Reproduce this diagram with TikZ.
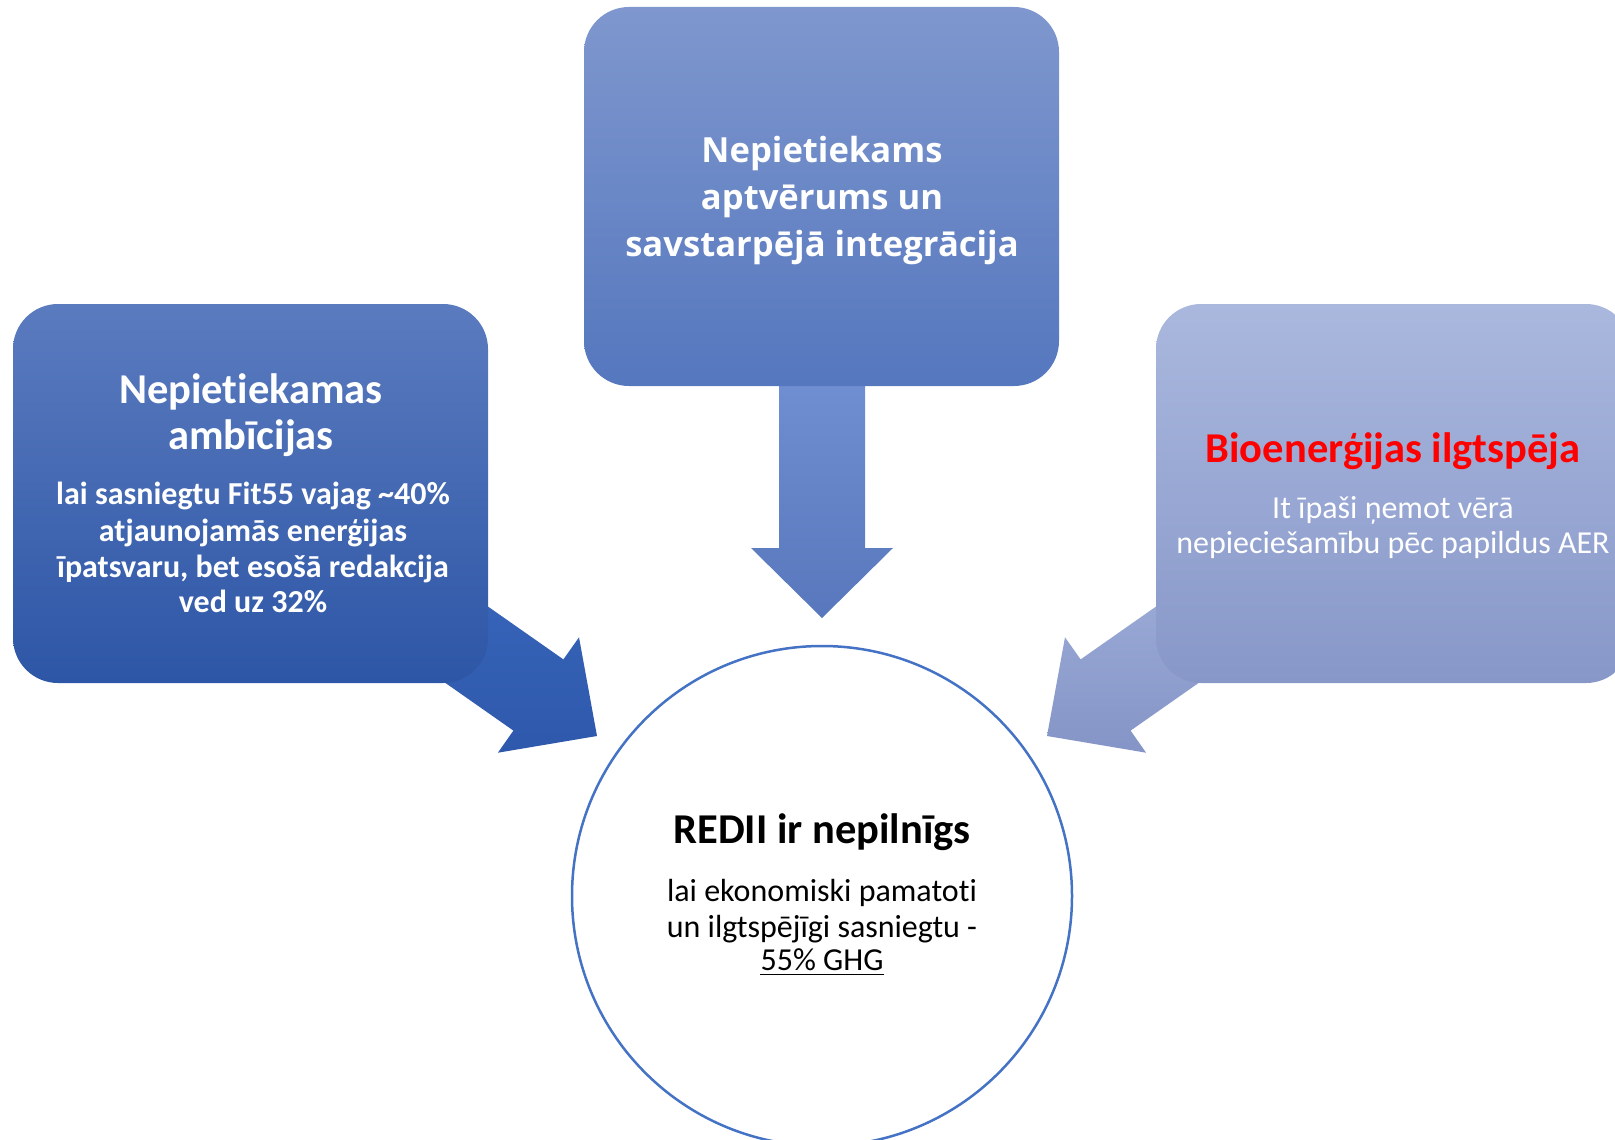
\documentclass[tikz,border=0pt]{standalone}
\usepackage{fontspec}
\setmainfont{Carlito}[Ligatures=NoCommon]
\newfontfamily\osans{Open Sans}
\usetikzlibrary{calc}
\definecolor{topA}{HTML}{7F97CE}
\definecolor{topB}{HTML}{5577BE}
\definecolor{downA}{HTML}{7190D3}
\definecolor{downB}{HTML}{5877BC}
\definecolor{leftA}{HTML}{5B7BBF}
\definecolor{leftB}{HTML}{2D56A6}
\definecolor{larA}{HTML}{3A69BE}
\definecolor{larB}{HTML}{2E58AB}
\definecolor{rightA}{HTML}{AAB8DE}
\definecolor{rightB}{HTML}{8797C8}
\definecolor{rarA}{HTML}{A3B2DC}
\definecolor{rarB}{HTML}{8494C6}
\definecolor{circblue}{HTML}{4472C4}
\definecolor{titlered}{HTML}{FF0000}
\begin{document}
\begin{tikzpicture}[x=1pt,y=-1pt,
  card/.style={rectangle, rounded corners=45pt, minimum width=475pt, minimum height=379pt, inner sep=0pt},
  txt/.style={inner sep=0pt, anchor=base, text=white},
  ttl/.style={txt, font=\fontsize{42.5}{48}\selectfont\bfseries},
  bodyb/.style={txt, font=\fontsize{32}{36}\selectfont\bfseries},
  bodyr/.style={txt, font=\fontsize{32}{36}\selectfont},
  toptxt/.style={txt, font=\osans\fontsize{34.6}{46}\selectfont\bfseries}]
\useasboundingbox (0,0) rectangle (1615,1140);

% block arrows (behind the boxes)
\coordinate (lS1) at (383.2,533.1);
\coordinate (lN1) at (563.4,659.4);
\coordinate (lH1) at (579.0,637.3);
\coordinate (lT)  at (597.0,736.0);
\coordinate (lH2) at (497.9,752.7);
\coordinate (lN2) at (513.4,730.6);
\coordinate (lS2) at (333.2,604.3);
\shade[top color=larA, bottom color=larB] (lS1) -- (lN1) -- (lH1) -- (lT) -- (lH2) -- (lN2) -- (lS2) -- cycle;

\coordinate (rS1) at (1260.8,533.1);
\coordinate (rN1) at (1080.6,659.4);
\coordinate (rH1) at (1065.0,637.3);
\coordinate (rT)  at (1047.0,736.0);
\coordinate (rH2) at (1146.1,752.7);
\coordinate (rN2) at (1130.6,730.6);
\coordinate (rS2) at (1310.8,604.3);
\shade[top color=rarA, bottom color=rarB] (rS1) -- (rN1) -- (rH1) -- (rT) -- (rH2) -- (rN2) -- (rS2) -- cycle;

\coordinate (dS1) at (779,370);
\coordinate (dN1) at (779,548);
\coordinate (dH1) at (751,548);
\coordinate (dT)  at (822,618);
\coordinate (dH2) at (893,548);
\coordinate (dN2) at (865,548);
\coordinate (dS2) at (865,370);
\shade[top color=downA, bottom color=downB] (dS1) -- (dN1) -- (dH1) -- (dT) -- (dH2) -- (dN2) -- (dS2) -- cycle;

% boxes
\node[card, top color=topA, bottom color=topB] (topbox) at (821.5,196.5) {};
\node[card, top color=leftA, bottom color=leftB] (leftbox) at (250.5,493.5) {};
\node[card, top color=rightA, bottom color=rightB] (rightbox) at (1393.5,493.5) {};

% centre circle
\node[circle, draw=circblue, line width=2.5pt, fill=white, minimum size=500pt, inner sep=0pt] (goal) at (822,896) {};

% top box text
\node[toptxt] (tt1) at (822,162) {Nepietiekams};
\node[toptxt] (tt2) at (822,209) {aptvērums un};
\node[toptxt] (tt3) at (822,256) {savstarpējā integrācija};

% left box text
\node[ttl] (lt1) at (251,403) {Nepietiekamas};
\node[ttl] (lt2) at (251,449) {ambīcijas};
\node[bodyb] (lb1) at (253,504) {lai sasniegtu Fit55 vajag \textasciitilde40\%};
\node[bodyb] (lb2) at (253,541) {atjaunojamās enerģijas};
\node[bodyb] (lb3) at (253,577) {īpatsvaru, bet esošā redakcija};
\node[bodyb] (lb4) at (253,612) {ved uz 32\%};

% right box text
\node[ttl, text=titlered] (rt1) at (1393,462) {Bioenerģijas ilgtspēja};
\node[bodyr] (rb1) at (1393,518) {It īpaši ņemot vērā};
\node[bodyr] (rb2) at (1393,553) {nepieciešamību pēc papildus AER};

% circle text
\node[ttl, text=black] (ct1) at (822,843) {REDII ir nepilnīgs};
\node[bodyr, text=black] (cb1) at (822,901) {lai ekonomiski pamatoti};
\node[bodyr, text=black] (cb2) at (822,937) {un ilgtspējīgi sasniegtu -};
\node[bodyr, text=black] (cb3) at (822,970) {55\% GHG};
\draw[line width=1.8pt, black] ([yshift=-4.5pt]cb3.base west) -- ([yshift=-4.5pt]cb3.base east);
\end{tikzpicture}
\end{document}
